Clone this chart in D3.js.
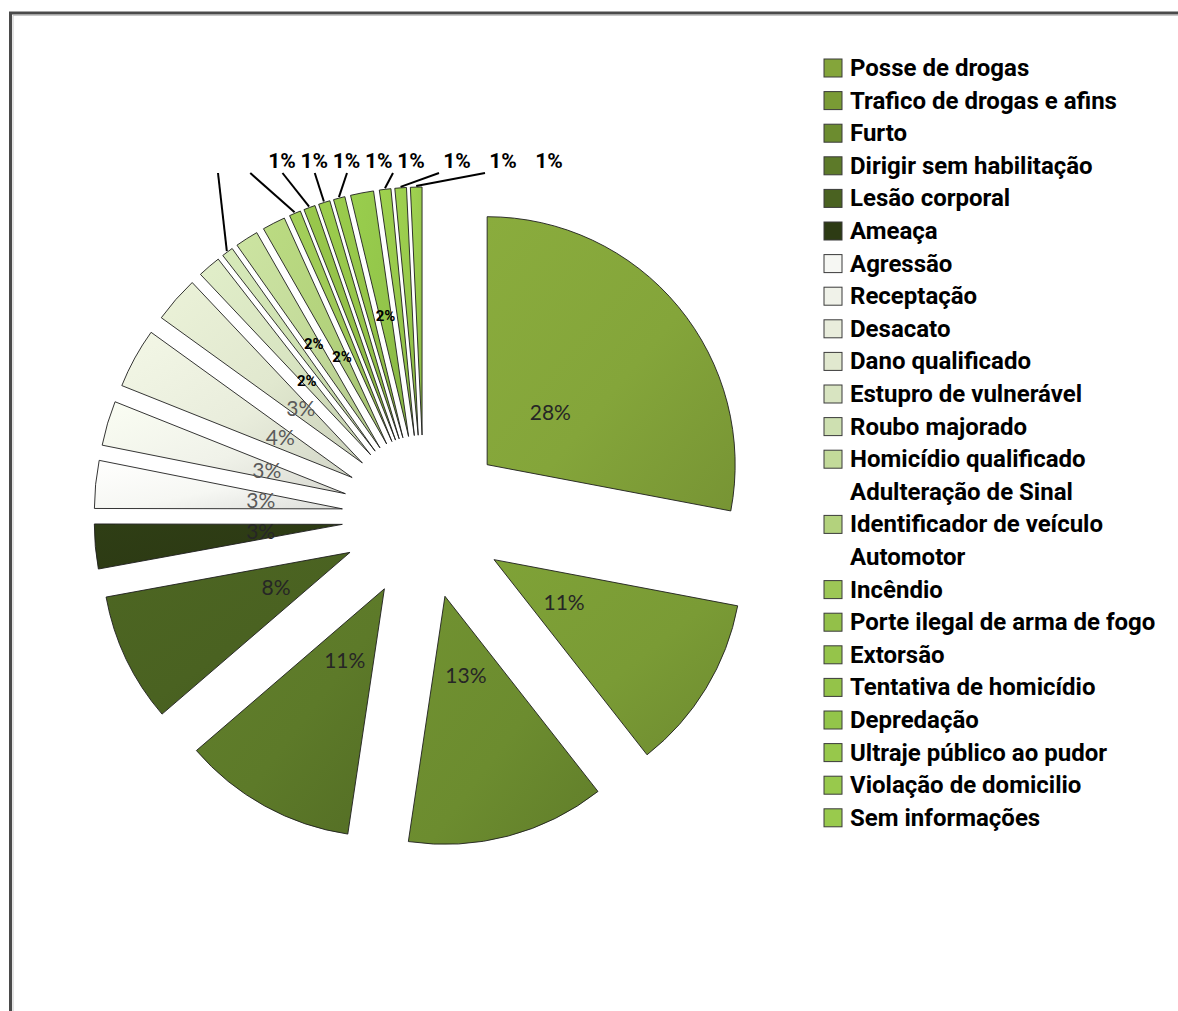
<!DOCTYPE html>
<html>
<head>
<meta charset="utf-8">
<script src="https://cdn.jsdelivr.net/npm/d3@7"></script>
<style>
  body { margin: 0; background: #fff; }
  svg { display: block; }
</style>
</head>
<body>
<svg id="chart"></svg>
<script>
const width = 1178;
const height = 1011;

// categories in legend / slice order
const categories = [
  'Posse de drogas',
  'Trafico de drogas e afins',
  'Furto',
  'Dirigir sem habilitação',
  'Lesão corporal',
  'Ameaça',
  'Agressão',
  'Receptação',
  'Desacato',
  'Dano qualificado',
  'Estupro de vulnerável',
  'Roubo majorado',
  'Homicídio qualificado',
  'Adulteração de Sinal\nIdentificador de veículo\nAutomotor',
  'Incêndio',
  'Porte ilegal de arma de fogo',
  'Extorsão',
  'Tentativa de homicídio',
  'Depredação',
  'Ultraje público ao pudor',
  'Violação de domicilio',
  'Sem informações'
];

// share of each slice (%)
const values = [27.9, 11.4, 12.9, 11.3, 8.4, 2.9, 3.1, 2.9, 3.9, 3.0,
                1.5, 0.75, 1.5, 1.5, 0.75, 0.75, 0.75, 0.75, 1.5, 0.75, 0.75, 0.75];

const colors = [
  '#84a53a', '#7a9b35', '#6c8c2f', '#5d7a29', '#4a6221', '#2d3b14',
  '#f6f7f3', '#f0f2e9', '#e9eddc', '#e1e8cf', '#d8e4c1', '#cee0b1',
  '#c3da9a', '#b3d27d', '#9dc756', '#93c049', '#95c44a', '#94c349',
  '#93c54a', '#97c84b', '#98c94c', '#99ca4d'
];

const data = categories.map((c, i) => ({ name: c, value: values[i], color: colors[i] }));
const total = d3.sum(values);

const svg = d3.select('#chart')
  .attr('width', width)
  .attr('height', height);

// frame of the chart area (left + top edges visible)
svg.append('path')
  .attr('d', `M10.5,${height} L10.5,13 L${width},13`)
  .attr('fill', 'none')
  .attr('stroke', '#4a4a4a')
  .attr('stroke-width', 3);
svg.append('path')
  .attr('d', `M13,${height} L13,15.5 L${width},15.5`)
  .attr('fill', 'none')
  .attr('stroke', '#c8c8c8')
  .attr('stroke-width', 1);

const cx = 424, cy = 517;
const radius = 248;
const explode = 82;

const pie = d3.pie().sort(null).value(d => d.value);
const arc = d3.arc().innerRadius(0).outerRadius(radius);
const labelArc = d3.arc().innerRadius(explode * 2).outerRadius(explode * 2);

const slices = pie(data);
slices.forEach(s => {
  s.mid = (s.startAngle + s.endAngle) / 2;
  s.dx = Math.sin(s.mid) * explode;
  s.dy = -Math.cos(s.mid) * explode;
  s.pct = Math.round(s.value / total * 100);
});

const defs = svg.append('defs');
const grad = defs.selectAll('linearGradient')
  .data(slices)
  .join('linearGradient')
  .attr('id', (d, i) => 'grad' + i)
  .attr('x1', 0).attr('y1', 0).attr('x2', 1).attr('y2', 1);
grad.append('stop').attr('offset', 0).attr('stop-color', d => d3.color(d.data.color).brighter(0.12));
grad.append('stop').attr('offset', 0.55).attr('stop-color', d => d.data.color);
grad.append('stop').attr('offset', 1).attr('stop-color', d => d3.color(d.data.color).darker(0.3));

const pieG = svg.append('g').attr('transform', `translate(${cx},${cy})`);

pieG.selectAll('path.slice')
  .data(slices)
  .join('path')
  .attr('class', 'slice')
  .attr('transform', d => `translate(${d.dx},${d.dy})`)
  .attr('d', arc)
  .attr('fill', (d, i) => `url(#grad${i})`)
  .attr('stroke', '#1e1e1e')
  .attr('stroke-width', 0.9);

// labels inside the slices
const big = slices.filter(d => d.pct > 2);
pieG.selectAll('text.inlabel')
  .data(big)
  .join('text')
  .attr('class', 'inlabel')
  .attr('transform', d => `translate(${labelArc.centroid(d)})`)
  .attr('text-anchor', 'middle')
  .attr('dy', '0.35em')
  .style('font-family', 'Lato')
  .style('font-size', '21px')
  .attr('fill', d => d3.hsl(d.data.color).l > 0.8 ? '#5a5a5a' : '#262626')
  .text(d => d.pct + '%');

// the 2% slices are thin: stagger their labels a bit so they do not collide
const mid2 = slices.filter(d => d.pct === 2);
pieG.selectAll('text.smlabel')
  .data(mid2)
  .join('text')
  .attr('class', 'smlabel')
  .attr('transform', (d, k) => {
    const r = 180 + (k % 2) * 25;
    return `translate(${Math.sin(d.mid) * r},${-Math.cos(d.mid) * r})`;
  })
  .attr('text-anchor', 'middle')
  .attr('dy', '0.35em')
  .style('font-family', 'Roboto')
  .style('font-weight', 700)
  .style('font-size', '15px')
  .attr('fill', '#000')
  .text(d => d.pct + '%');

// small slices: labels on a row above the pie, with leader lines
const outside = slices.filter(d => d.pct <= 1);
const lineTopY = 173 - cy;
const endX = d3.scaleLinear().domain([0, 4, outside.length - 1]).range([218, 347, 485]);

pieG.selectAll('line.leader')
  .data(outside)
  .join('line')
  .attr('class', 'leader')
  .attr('x1', d => Math.sin(d.mid) * (explode + radius + 1))
  .attr('y1', d => -Math.cos(d.mid) * (explode + radius + 1))
  .attr('x2', (d, i) => endX(i) - cx)
  .attr('y2', lineTopY)
  .attr('stroke', '#000')
  .attr('stroke-width', 2);

pieG.selectAll('text.outlabel')
  .data(outside)
  .join('text')
  .attr('class', 'outlabel')
  .attr('x', (d, i) => endX(i) - cx + 64)
  .attr('y', lineTopY - 5)
  .attr('text-anchor', 'middle')
  .style('font-family', 'Roboto')
  .style('font-weight', 700)
  .style('font-size', '21px')
  .attr('fill', '#000')
  .text(d => d.pct + '%');

// legend
const legendX = 824;
const rowY = i => 68 + i * 32.6;
let row = 0;
const legend = svg.append('g');
data.forEach(d => {
  const lines = d.name.split('\n');
  const swatchRow = row + Math.floor(lines.length / 2);
  legend.append('rect')
    .attr('x', legendX)
    .attr('y', rowY(swatchRow) - 9)
    .attr('width', 18)
    .attr('height', 18)
    .attr('fill', d.color)
    .attr('stroke', '#3a3a3a')
    .attr('stroke-width', 1);
  lines.forEach((t, j) => {
    legend.append('text')
      .attr('x', legendX + 26)
      .attr('y', rowY(row + j) + 8)
      .style('font-family', 'Roboto')
      .style('font-weight', 700)
      .style('font-size', '24px')
      .attr('fill', '#000')
      .text(t);
  });
  row += lines.length;
});
</script>
</body>
</html>
